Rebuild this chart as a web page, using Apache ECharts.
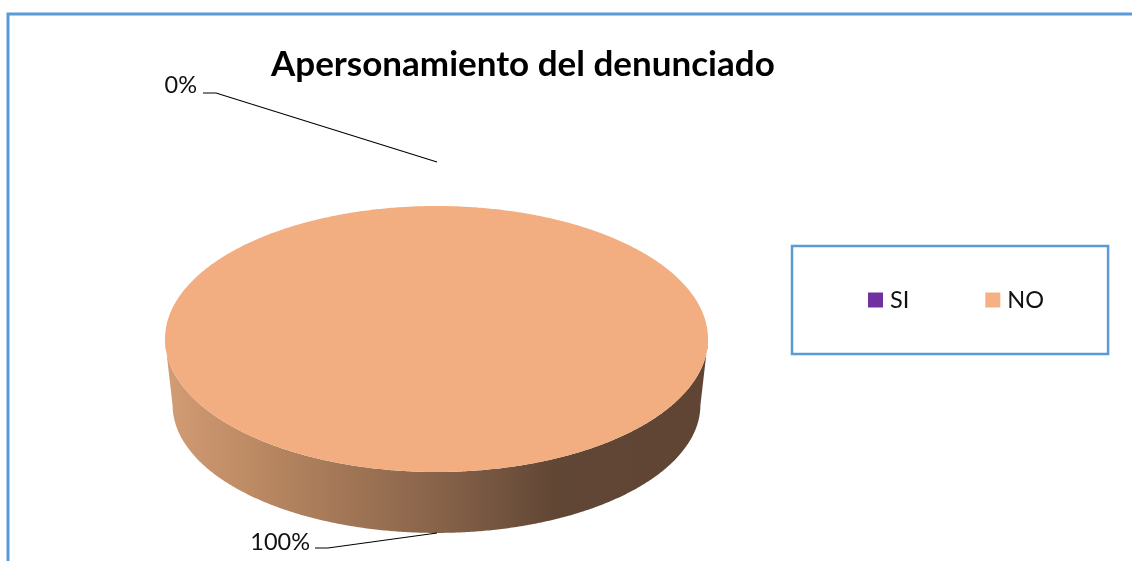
<!DOCTYPE html>
<html><head><meta charset="utf-8">
<style>html,body{margin:0;padding:0;background:#fff}#c{width:1132px;height:561px}</style>
<script src="https://cdn.jsdelivr.net/npm/echarts@6/dist/echarts.min.js"></script>
</head><body><div id="c"></div>
<script>
const categories = ['SI', 'NO'];
const shares = [0, 100];
const colors = ['#7030A0', '#F4B183'];
const faceColors = ['#7030A0', '#F2AE80'];
const titleText = 'Apersonamiento del denunciado';

const FONT = 'Lato, "Open Sans", sans-serif';
// base ellipse of the disc, in axis units: perspective makes it slightly smaller
const BASE_DROP = 66 / 133, BASE_RX = 0.972, BASE_RY = 0.962;
const total = shares.reduce((a, b) => a + b, 0);
// leader lines for each category: label anchor, elbow, tip (pixels)
const leaders = {
  SI: { text: [197, 85], pts: [[203, 93], [216, 93], [437, 162]] },
  NO: { text: [310, 542], pts: [[315, 548], [328, 548], [437, 533]] }
};

function renderSlice(params, api) {
  const idx = params.seriesIndex;
  const val = api.value(0);
  const before = shares.slice(0, idx).reduce((a, b) => a + b, 0);
  const a0 = before / total * 2 * Math.PI;
  const a1 = (before + val) / total * 2 * Math.PI;
  const children = [];
  const L = leaders[categories[idx]];
  if (val > 0) {
    const top = [api.coord([0, 0])];
    const rim = [];
    const steps = Math.max(2, Math.round((a1 - a0) * 120));
    for (let i = 0; i <= steps; i++) {
      const a = a0 + (a1 - a0) * i / steps;
      const x = Math.sin(a), y = Math.cos(a);
      top.push(api.coord([x, y]));
      if (y <= 0) rim.push([x, y]);
    }
    rim.sort((p, q) => p[0] - q[0]);
    const wall = rim.map(p => api.coord(p))
      .concat(rim.slice().reverse().map(p => api.coord([p[0] * BASE_RX, p[1] * BASE_RY - BASE_DROP])));
    children.push({
      type: 'polygon', shape: { points: wall },
      style: {
        fill: new echarts.graphic.LinearGradient(165, 0, 708, 0, [
          { offset: 0, color: '#D39C75' },
          { offset: 0.16, color: '#BC8A63' },
          { offset: 0.5, color: '#88634A' },
          { offset: 0.72, color: '#604634' },
          { offset: 1, color: '#604534' }
        ], true)
      }
    });
    children.push({ type: 'polygon', shape: { points: top }, style: { fill: faceColors[idx] } });
  }
  children.push({
    type: 'polyline', shape: { points: L.pts },
    style: { fill: null, stroke: '#000', lineWidth: 1.2 }, z2: 5
  });
  children.push({
    type: 'text', x: L.text[0], y: L.text[1], z2: 5,
    style: {
      text: Math.round(val / total * 100) + '%', fill: '#111',
      font: '23.5px ' + FONT, align: 'right', verticalAlign: 'middle'
    }
  });
  return { type: 'group', children };
}

const chart = echarts.init(document.getElementById('c'), null, { renderer: 'canvas' });
chart.setOption({
  animation: false,
  backgroundColor: '#fff',
  title: {
    text: titleText, left: 271, top: 47, padding: 0,
    textStyle: { fontFamily: FONT, fontWeight: 'bold', fontSize: 35, color: '#000' }
  },
  legend: {
    data: categories, left: 792, top: 246, orient: 'horizontal',
    icon: 'rect', itemWidth: 15, itemHeight: 15, itemGap: 76,
    padding: [42, 64, 42, 76], borderColor: '#5B9BD5', borderWidth: 2.5,
    textStyle: { fontFamily: FONT, fontSize: 23.5, color: '#111', padding: [0, 0, 0, 2], lineHeight: 15 }
  },
  grid: { left: 165, width: 543, top: 206, height: 266 },
  xAxis: { type: 'value', min: -1, max: 1, show: false },
  yAxis: { type: 'value', min: -1, max: 1, show: false },
  graphic: [{
    type: 'polyline', silent: true,
    shape: { points: [[8, 561], [8, 14], [1132, 14]] },
    style: { fill: null, stroke: '#5B9BD5', lineWidth: 3 }
  }],
  series: categories.map((name, i) => ({
    type: 'custom', name, coordinateSystem: 'cartesian2d',
    itemStyle: { color: colors[i] },
    encode: { x: 0, y: 1 },
    data: [[shares[i], 0]],
    renderItem: renderSlice, silent: true
  }))
});
</script></body></html>
